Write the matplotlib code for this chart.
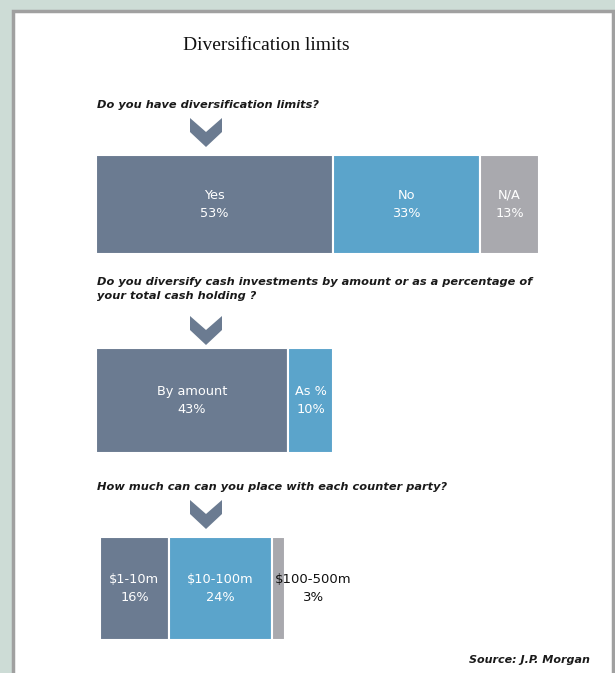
import matplotlib.pyplot as plt
from matplotlib.patches import Rectangle, Polygon

W, H = 615, 673

title = 'Diversification limits'
source = 'Source: J.P. Morgan'

q1 = 'Do you have diversification limits?'
labels1 = ['Yes', 'No', 'N/A']
values1 = [53, 33, 13]

q2 = 'Do you diversify cash investments by amount or as a percentage of\nyour total cash holding ?'
labels2 = ['By amount', 'As %']
values2 = [43, 10]

q3 = 'How much can can you place with each counter party?'
labels3 = ['$1-10m', '$10-100m', '$100-500m']
values3 = [16, 24, 3]

slate = '#6b7b91'
blue = '#5ba4cb'
grey = '#a9a9ae'
colors1 = [slate, blue, grey]
colors2 = [slate, blue]
colors3 = [slate, blue, grey]

fig = plt.figure(figsize=(W / 100, H / 100), dpi=100)
fig.patch.set_facecolor('#cddcd6')

# background canvas in pixel coordinates
bg = fig.add_axes([0, 0, 1, 1])
bg.set_xlim(0, W)
bg.set_ylim(H, 0)
bg.axis('off')
bg.add_patch(Rectangle((13, 11), 600, 670, facecolor='white', edgecolor='#a0a0a0', linewidth=2.5))

bg.text(266, 46, title, ha='center', va='center', fontsize=14,
        family='Liberation Serif', color='#111111')

qfont = dict(family='DejaVu Sans', fontsize=8.2, fontweight='bold', style='italic',
             color='#1a1a1a', ha='left', va='center')
bg.text(97, 105, q1, **qfont)
bg.text(97, 289, q2, linespacing=1.4, **qfont)
bg.text(97, 487, q3, **qfont)
bg.text(590, 660, source, family='DejaVu Sans', fontsize=8, fontweight='bold',
        style='italic', color='#1a1a1a', ha='right', va='center')


def chevron(cx, top):
    pts = [(cx - 16, top), (cx, top + 14), (cx + 16, top), (cx + 16, top + 14),
           (cx, top + 29), (cx - 16, top + 14)]
    bg.add_patch(Polygon(pts, closed=True, facecolor=slate, edgecolor='none'))


chevron(206, 118)
chevron(206, 316)
chevron(206, 500)


def stacked(rect, labels, values, colors, px_per_pct, outside=()):
    ax = fig.add_axes(rect)
    ax.set_xlim(0, rect[2] * W / px_per_pct)
    ax.set_ylim(0, 1)
    ax.axis('off')
    left = 0
    for lab, val, col in zip(labels, values, colors):
        ax.barh(0.5, val, left=left, height=1, color=col, edgecolor='white',
                linewidth=1.5, align='center')
        if lab in outside:
            ax.text(left + val * 3.2, 0.5, f'{lab}\n{val}%', ha='center', va='center',
                    fontsize=9.5, color='#111111', linespacing=1.55)
        else:
            ax.text(left + val / 2, 0.5, f'{lab}\n{val}%', ha='center', va='center',
                    fontsize=9.3, color='white', linespacing=1.55)
        left += val
    return ax


ppp = 4.47
stacked([96 / W, 1 - 254 / H, 450 / W, 99 / H], labels1, values1, colors1, ppp)
stacked([96 / W, 1 - 453 / H, 450 / W, 105 / H], labels2, values2, colors2, ppp)
stacked([100 / W, 1 - 640 / H, 450 / W, 103 / H], labels3, values3, colors3, 4.3,
        outside=('$100-500m',))

plt.savefig('out.png', dpi=100, facecolor=fig.get_facecolor())
